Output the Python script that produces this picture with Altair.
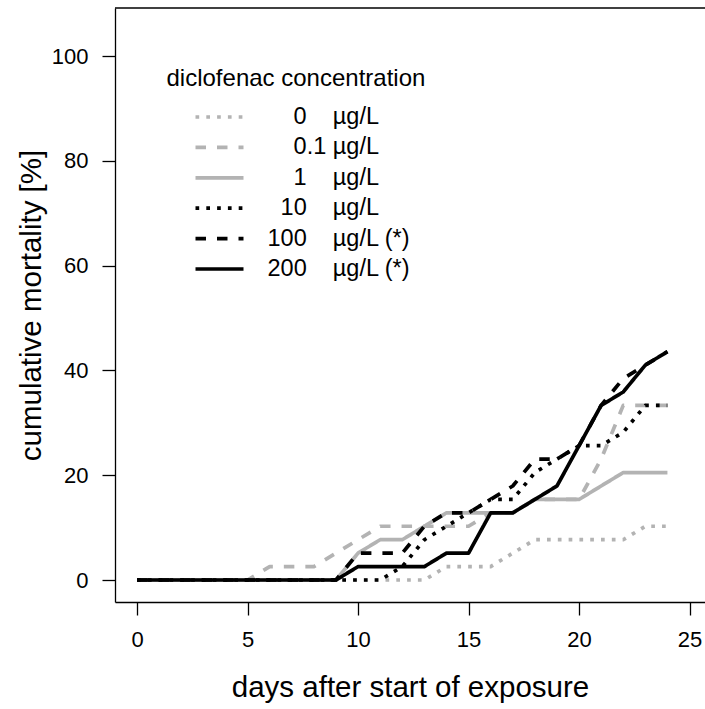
import altair as alt
import pandas as pd

# ---------------- data ----------------
days = [0, 1, 2, 3, 4, 5, 6, 7, 8, 9, 10, 11, 12, 13, 14, 15, 16, 17, 18, 19, 20, 21, 22, 23, 24]

NB = "\u00a0"
ZW = "\u200b"
series_labels = [
    ZW + NB * 4 + "0" + NB * 4 + "µg/L",
    ZW + NB * 4 + "0.1" + NB + "µg/L",
    ZW + NB * 4 + "1" + NB * 4 + "µg/L",
    ZW + NB * 2 + "10" + NB * 4 + "µg/L",
    "100" + NB * 4 + "µg/L (*)",
    "200" + NB * 4 + "µg/L (*)",
]

mort_0 = [0, 0, 0, 0, 0, 0, 0, 0, 0, 0, 0, 0, 0, 0,
          2.56, 2.56, 2.56, 5.13, 7.69, 7.69, 7.69, 7.69, 7.69, 10.26, 10.26]
mort_0_1 = [0, 0, 0, 0, 0, 0, 2.56, 2.56, 2.56, 5.13, 7.69, 10.26, 10.26, 10.26,
            10.26, 10.26, 12.82, 12.82, 15.38, 15.38, 15.38, 23.08, 33.33, 33.33, 33.33]
mort_1 = [0, 0, 0, 0, 0, 0, 0, 0, 0, 0, 5.13, 7.69, 7.69, 10.26,
          12.82, 12.82, 12.82, 12.82, 15.38, 15.38, 15.38, 17.95, 20.51, 20.51, 20.51]
mort_10 = [0, 0, 0, 0, 0, 0, 0, 0, 0, 0, 0, 0, 2.56, 7.69,
           10.26, 12.82, 15.38, 15.38, 20.51, 23.08, 25.64, 25.64, 28.21, 33.33, 33.33]
mort_100 = [0, 0, 0, 0, 0, 0, 0, 0, 0, 0, 5.13, 5.13, 5.13, 10.26,
            12.82, 12.82, 15.38, 17.95, 23.08, 23.08, 25.64, 33.33, 38.46, 41.03, 43.59]
mort_200 = [0, 0, 0, 0, 0, 0, 0, 0, 0, 0, 2.56, 2.56, 2.56, 2.56,
            5.13, 5.13, 12.82, 12.82, 15.38, 17.95, 25.64, 33.33, 35.90, 41.03, 43.59]

x_ticks = [0, 5, 10, 15, 20, 25]
y_ticks = [0, 20, 40, 60, 80, 100]

all_series = [mort_0, mort_0_1, mort_1, mort_10, mort_100, mort_200]

rows = []
for lab, vals in zip(series_labels, all_series):
    for d, v in zip(days, vals):
        rows.append({"day": d, "mortality": v, "conc": lab})
df = pd.DataFrame(rows)

# ---------------- styles ----------------
GRAY = "#b3b3b3"
colors = [GRAY, GRAY, GRAY, "black", "black", "black"]
dots = [3.7, 7.1]
dashes = [10.5, 11]
solid = [1, 0]
dash_range = [dots, dashes, solid, dots, dashes, solid]

FONT = "Liberation Sans"
W, H = 590, 594
LW = 3.7

legend = alt.Legend(
    title="diclofenac concentration",
    orient="none",
    legendX=51.5,
    legendY=59,
    symbolType="stroke",
    symbolSize=2304,
    symbolStrokeWidth=LW,
    symbolOffset=27,
    labelOffset=22,
    labelFont=FONT,
    labelFontSize=23.5,
    labelColor="black",
    labelLimit=600,
    titleFont=FONT,
    titleFontSize=24,
    titleFontWeight="normal",
    titleColor="black",
    titleLimit=600,
    titlePadding=11,
    clipHeight=30,
    rowPadding=0.4,
    padding=0,
)

lines = alt.Chart(df).mark_line(
    strokeWidth=LW, strokeCap="butt", strokeJoin="round", clip=True
).encode(
    x=alt.X(
        "day:Q",
        scale=alt.Scale(domain=[-1, 25.7], nice=False, zero=False),
        axis=alt.Axis(
            values=x_ticks,
            title="days after start of exposure",
            labelPadding=14,
            titlePadding=23,
            labelFlush=False,
            format="d",
        ),
    ),
    y=alt.Y(
        "mortality:Q",
        scale=alt.Scale(domain=[-4.2, 109.2], nice=False, zero=False),
        axis=alt.Axis(
            values=y_ticks,
            title="cumulative mortality [%]",
            labelPadding=14,
            titlePadding=5,
            labelFlush=False,
            format="d",
        ),
    ),
    color=alt.Color(
        "conc:N",
        scale=alt.Scale(domain=series_labels, range=colors),
        sort=series_labels,
        legend=legend,
    ),
    strokeDash=alt.StrokeDash(
        "conc:N",
        scale=alt.Scale(domain=series_labels, range=dash_range),
        sort=series_labels,
        legend=legend,
    ),
)

top_border = alt.Chart(pd.DataFrame({"a": [0]})).mark_rule(
    color="black", strokeWidth=1.3
).encode(x=alt.value(0), x2=alt.value(W + 20), y=alt.value(0))

chart = (
    alt.layer(lines, top_border)
    .properties(
        width=W,
        height=H,
        autosize=alt.AutoSizeParams(type="none"),
        padding={"left": 115, "top": 8, "right": 0, "bottom": 107},
    )
    .configure_view(stroke=None)
    .configure_axis(
        grid=False,
        domainColor="black",
        domainWidth=1.3,
        tickColor="black",
        tickWidth=1.3,
        tickSize=13,
        labelFont=FONT,
        labelFontSize=22,
        labelColor="black",
        titleFont=FONT,
        titleFontSize=29.5,
        titleFontWeight="normal",
        titleColor="black",
        labelOverlap=False,
    )
)

chart.save("out.html", embed_options={"renderer": "svg", "actions": False})
